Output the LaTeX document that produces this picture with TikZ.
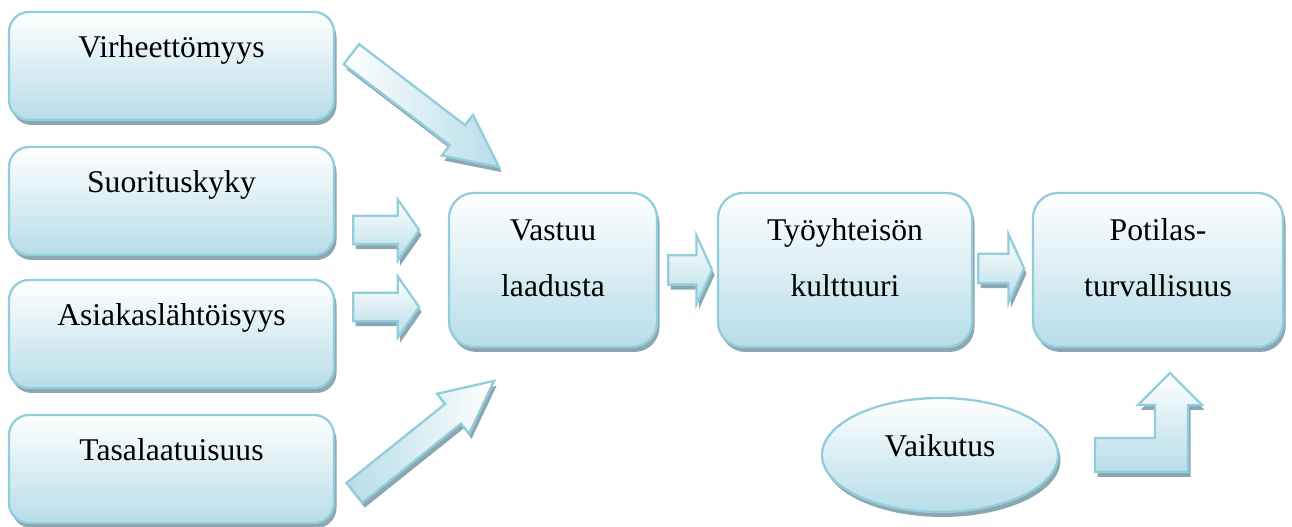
\documentclass[tikz,border=0pt]{standalone}
\usepackage{fontspec}
\setmainfont{Liberation Serif}
\usepackage{tikz}
\usetikzlibrary{positioning, shapes.geometric, shapes.arrows, shadows}
\definecolor{frameblue}{HTML}{92CDDC}
\definecolor{fillblue}{HTML}{B7DDE8}
\definecolor{shadowgrey}{HTML}{8DA7B2}

\begin{document}
\begin{tikzpicture}[
    every node/.style={font=\fontsize{18}{32}\selectfont},
    base/.style={draw=frameblue, line width=1.3pt, top color=white, bottom color=fillblue,
        drop shadow={shadow xshift=0.05cm, shadow yshift=-0.1cm, fill=shadowgrey, opacity=1}},
    factor/.style={base, rounded corners=0.4cm, minimum width=6.5cm, inner sep=0pt, text height=0.92cm, text depth=1.24cm},
    stage/.style={base, rounded corners=0.5cm, minimum width=#1, align=center, inner sep=0pt, text height=2.08cm, text depth=1.0cm},
    fatarrow/.style={base, single arrow, anchor=tail, inner xsep=0pt, inner ysep=0.26cm, minimum height=1.32cm, minimum width=1.18cm, single arrow head extend=0.33cm, single arrow tip angle=110},
    slimarrow/.style={base, single arrow, anchor=tail, inner xsep=0pt, inner ysep=0.23cm, minimum height=#1, minimum width=0.98cm, single arrow head extend=0.26cm, single arrow tip angle=52},
    shortarrow/.style={base, single arrow, anchor=tail, inner xsep=0pt, inner ysep=0.27cm, minimum height=#1, minimum width=1.32cm, single arrow head extend=0.39cm, single arrow tip angle=131},
]
    \useasboundingbox (0,0) rectangle (25.84,10.54);

    % left column
    \node[factor] (virhe) at (3.43, 9.22) {Virheettömyys};
    \node[factor] (suoritus) at (3.43, 6.52) {Suorituskyky};
    \node[factor] (asiakas) at (3.43, 3.86) {Asiakaslähtöisyys};
    \node[factor] (tasa) at (3.43, 1.16) {Tasalaatuisuus};

    % main chain
    \node[stage=4.16cm] (vastuu) at (11.06, 5.14) {Vastuu\\laadusta};
    \node[stage=5.08cm] (tyo) at (16.9, 5.14) {Työyhteisön\\kulttuuri};
    \node[stage=5.0cm] (potilas) at (23.16, 5.14) {Potilas-\\turvallisuus};

    \node[base, ellipse, minimum width=4.72cm, minimum height=2.28cm, inner sep=0pt, text height=0.45cm, text depth=0.37cm] (vaikutus) at (18.8, 1.44) {Vaikutus};

    % block arrows, placed by their tails
    \node[slimarrow=3.72cm, rotate=-37.4, left color=white, right color=fillblue] (inTop) at (7.01, 9.47) {};
    \node[fatarrow] (inSuor) at (7.04, 5.94) {};
    \node[fatarrow] (inAsiak) at (7.04, 4.40) {};
    \node[slimarrow=3.58cm, rotate=38.7, left color=fillblue, right color=white] (inBottom) at (7.07, 0.67) {};

    \node[shortarrow=0.88cm] (toTyo) at (13.34, 5.14) {};
    \node[shortarrow=0.92cm] (toPotilas) at (19.54, 5.17) {};

    \draw[base] (21.9,1.78) -- (23.1,1.78) -- (23.1,2.44) -- (22.76,2.44) -- (23.4,3.08)
        -- (24.04,2.44) -- (23.76,2.44) -- (23.76,1.10) -- (21.9,1.10) -- cycle;
\end{tikzpicture}
\end{document}
